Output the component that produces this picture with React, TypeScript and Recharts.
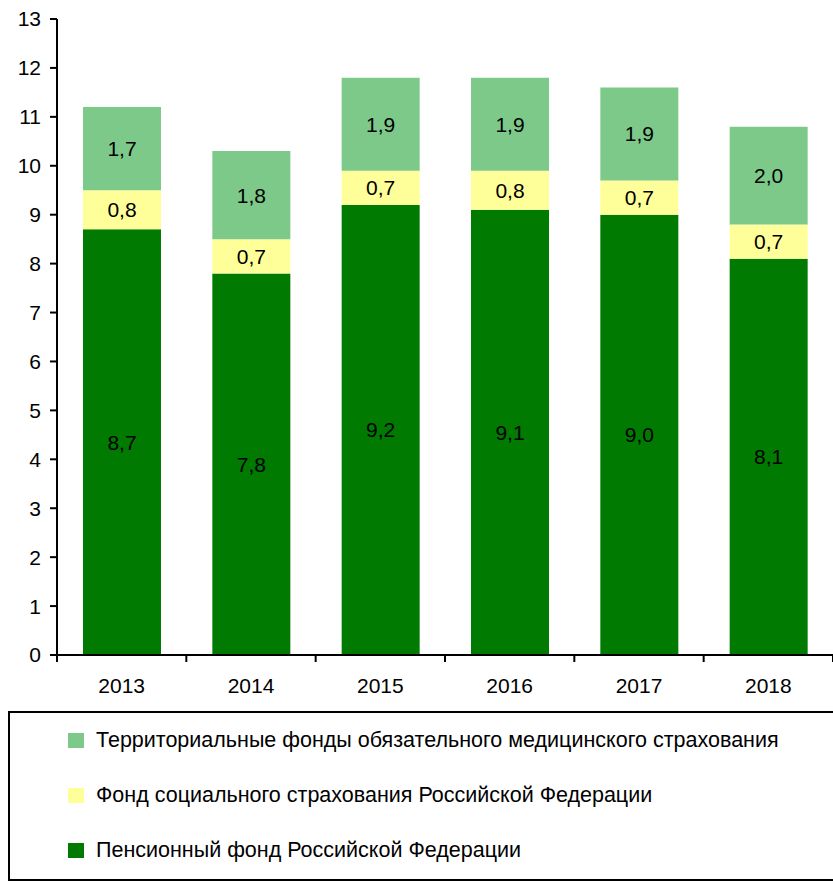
import React from 'react';
import { BarChart, Bar, XAxis, YAxis, Legend, LabelList } from 'recharts';

const years = ['2013', '2014', '2015', '2016', '2017', '2018'];
const pension = [8.7, 7.8, 9.2, 9.1, 9.0, 8.1];
const social = [0.8, 0.7, 0.7, 0.8, 0.7, 0.7];
const territorial = [1.7, 1.8, 1.9, 1.9, 1.9, 2.0];
const yTicks = [0, 1, 2, 3, 4, 5, 6, 7, 8, 9, 10, 11, 12, 13];
const legendOrder = ['territorial', 'social', 'pension'];

const seriesNames = {
  pension: 'Пенсионный фонд Российской Федерации',
  social: 'Фонд социального страхования Российской Федерации',
  territorial: 'Территориальные фонды обязательного медицинского страхования',
};

const data = years.map((year, i) => ({
  year,
  pension: pension[i],
  social: social[i],
  territorial: territorial[i],
}));

const FONT = '"Liberation Sans", Arial, sans-serif';
const FS = 21;
const LEGEND_FS = 21.5;

const fmt = (v: any) => Number(v).toFixed(1).replace('.', ',');

const XTick = (props: any) => {
  const { x, y, payload, index, visibleTicksCount, width } = props;
  const n = visibleTicksCount || years.length;
  const band = width ? width / n : 776 / n;
  const axisY = y - 8;
  return (
    <g>
      <line x1={x - band / 2} x2={x - band / 2} y1={axisY} y2={axisY + 7} stroke="#000" strokeWidth={2} />
      {index === n - 1 && (
        <line x1={x + band / 2} x2={x + band / 2} y1={axisY} y2={axisY + 7} stroke="#000" strokeWidth={2} />
      )}
      <text x={x} y={axisY + 30} textAnchor="middle" dominantBaseline="central" fill="#000" fontSize={FS} fontFamily={FONT}>
        {payload.value}
      </text>
    </g>
  );
};

const LegendBox = (props: any) => {
  const payload = props.payload || [];
  const items = legendOrder
    .map((k) => payload.find((p: any) => p.dataKey === k))
    .filter(Boolean);
  return (
    <div
      style={{
        boxSizing: 'border-box',
        height: 170,
        width: 825,
        borderLeft: '2px solid #000',
        borderTop: '2px solid #000',
        borderBottom: '2px solid #000',
        paddingLeft: 58,
        fontFamily: FONT,
        fontSize: LEGEND_FS,
        color: '#000',
      }}
    >
      {items.map((it: any) => (
        <div key={it.value} style={{ height: 55, display: 'flex', alignItems: 'center' }}>
          <span style={{ display: 'inline-block', width: 16, height: 15, background: it.color, marginRight: 12 }} />
          <span>{it.value}</span>
        </div>
      ))}
    </div>
  );
};

export default function App() {
  return (
    <div style={{ position: 'absolute', left: 0, top: 0, width: 833, height: 881, overflow: 'hidden', background: '#fff' }}>
      <BarChart
        width={833}
        height={881}
        data={data}
        margin={{ top: 19, right: 0, left: 0, bottom: 0 }}
        style={{ fontFamily: FONT }}
      >
        <XAxis
          dataKey="year"
          axisLine={{ stroke: '#000', strokeWidth: 2 }}
          tickLine={false}
          tickSize={6}
          tickMargin={2}
          height={56}
          interval={0}
          tick={<XTick />}
        />
        <YAxis
          domain={[0, 13]}
          ticks={yTicks}
          interval={0}
          width={57}
          axisLine={{ stroke: '#000', strokeWidth: 2 }}
          tickLine={{ stroke: '#000', strokeWidth: 2 }}
          tickSize={7}
          tickMargin={9}
          tick={{ fill: '#000', fontSize: FS, fontFamily: FONT }}
        />
        <Legend
          verticalAlign="bottom"
          height={170}
          content={<LegendBox />}
          wrapperStyle={{ left: 8, width: 825, bottom: 0, height: 170 }}
        />
        <Bar dataKey="pension" name={seriesNames.pension} stackId="a" fill="#007A00" barSize={78} isAnimationActive={false}>
          <LabelList dataKey="pension" position="center" formatter={fmt} fill="#000" fontSize={FS} fontFamily={FONT} />
        </Bar>
        <Bar dataKey="social" name={seriesNames.social} stackId="a" fill="#FFFF99" barSize={78} isAnimationActive={false}>
          <LabelList dataKey="social" position="center" formatter={fmt} fill="#000" fontSize={FS} fontFamily={FONT} />
        </Bar>
        <Bar dataKey="territorial" name={seriesNames.territorial} stackId="a" fill="#7DC98A" barSize={78} isAnimationActive={false}>
          <LabelList dataKey="territorial" position="center" formatter={fmt} fill="#000" fontSize={FS} fontFamily={FONT} />
        </Bar>
      </BarChart>
    </div>
  );
}
